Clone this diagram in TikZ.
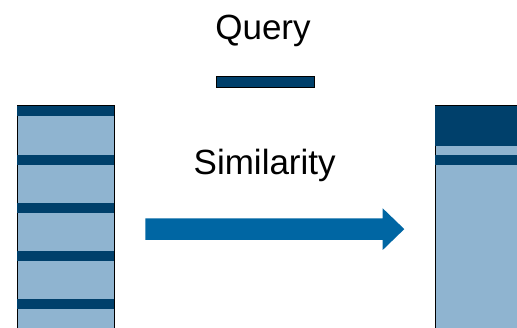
\documentclass[tikz,border=0pt]{standalone}
\usepackage{fontspec}
\setmainfont{Liberation Sans}
\usepackage{tikz}
\usetikzlibrary{positioning}
\definecolor{navy}{RGB}{0,64,107}
\definecolor{paleblue}{RGB}{143,180,208}
\definecolor{arrowblue}{RGB}{0,102,163}
\tikzset{
    col/.style={rectangle, draw=black, line width=1pt, fill=paleblue, inner sep=0, outer sep=0, anchor=north west},
    band/.style={rectangle, fill=navy, inner sep=0, outer sep=0, anchor=north west, minimum height=10pt},
    lbl/.style={font=\fontsize{35}{42}\selectfont, inner sep=0, anchor=base},
  }

\begin{document}
\begin{tikzpicture}[x=1pt, y=1pt]
  \useasboundingbox (0,0) rectangle (517,327);
  % query and its vector
  \node (query) [lbl] at (263,287) {Query};
  \node (qbar) [rectangle, draw=black, line width=0.8pt, fill=navy, inner sep=0,
        minimum width=98pt, minimum height=10.5pt] at (265,245) {};
  % document collection
  \node (docs) [col, minimum width=97pt, minimum height=240pt] at (17,221) {};
  \foreach \i in {0,...,4}
    \node (d\i) [band, minimum width=97pt] at (17,220.5-48.2*\i) {};
  % ranked list
  \node (ranked) [col, minimum width=100pt, minimum height=240pt] at (435.5,221) {};
  \node (top) [band, minimum width=100pt, minimum height=40pt] at (435,221) {};
  \node (r1) [band, minimum width=100pt] at (435,172) {};
  % similarity step
  \node (sim) [lbl] at (264.7,152) {Similarity};
  \coordinate (from) at (145.3,97.9);
  \coordinate (tip) at (404.3,97.9);
  \fill[arrowblue] (from) ++(0,10.8) -- ++(237.4,0) -- ++(0,10) -- (tip)
    -- ++(-21.6,-20.9) -- ++(0,10) -- ++(-237.4,0) -- cycle;
\end{tikzpicture}
\end{document}
